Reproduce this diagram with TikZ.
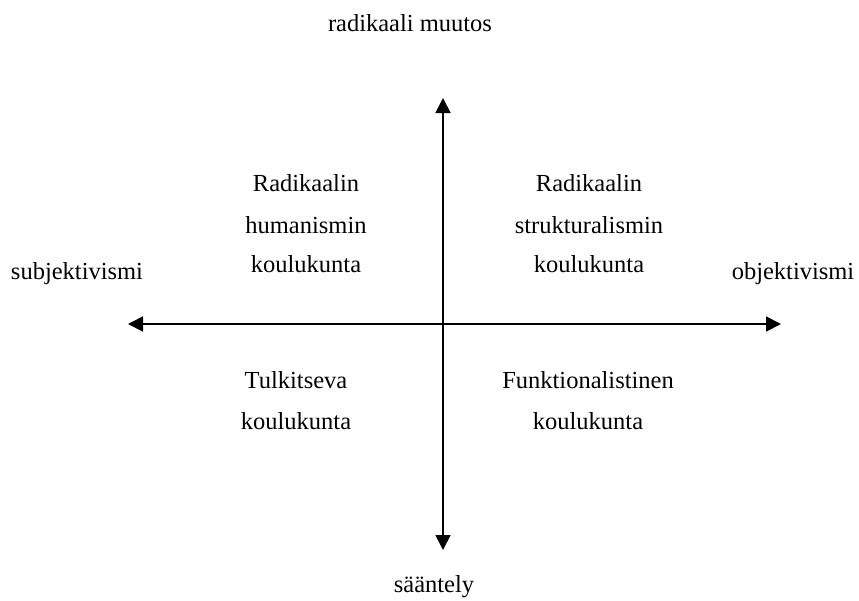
\documentclass[tikz,border=0pt]{standalone}
\usepackage{fontspec}
\setmainfont{Liberation Serif}
\usetikzlibrary{arrows.meta}
\begin{document}
\begin{tikzpicture}[x=1pt,y=-1pt,
  lbl/.style={font=\fontsize{24.5}{29}\selectfont, inner sep=0pt, anchor=base},
  axis/.style={line width=1.8pt, -{Triangle[width=15pt,length=15pt]}}]
\useasboundingbox (0,0) rectangle (859,600);
\coordinate (c) at (443,324);
\coordinate (top) at (443,98);
\coordinate (bot) at (443,550);
\coordinate (lft) at (128,324);
\coordinate (rgt) at (781,324);
\draw[axis] (c) -- (top);
\draw[axis] (c) -- (bot);
\draw[axis] (c) -- (lft);
\draw[axis] (c) -- (rgt);
\node[lbl] (rm) at (410,31) {radikaali muutos};
\node[lbl] (sa) at (434,592) {sääntely};
\node[lbl] (su) at (77,279) {subjektivismi};
\node[lbl] (ob) at (793,279) {objektivismi};
\node[lbl] (a1) at (306,191) {Radikaalin};
\node[lbl] (a2) at (306,233) {humanismin};
\node[lbl] (a3) at (306,272) {koulukunta};
\node[lbl] (b1) at (589,191) {Radikaalin};
\node[lbl] (b2) at (589,233) {strukturalismin};
\node[lbl] (b3) at (589,272) {koulukunta};
\node[lbl] (c1) at (296,388) {Tulkitseva};
\node[lbl] (c2) at (296,429) {koulukunta};
\node[lbl] (d1) at (588,388) {Funktionalistinen};
\node[lbl] (d2) at (588,429) {koulukunta};
\end{tikzpicture}
\end{document}
